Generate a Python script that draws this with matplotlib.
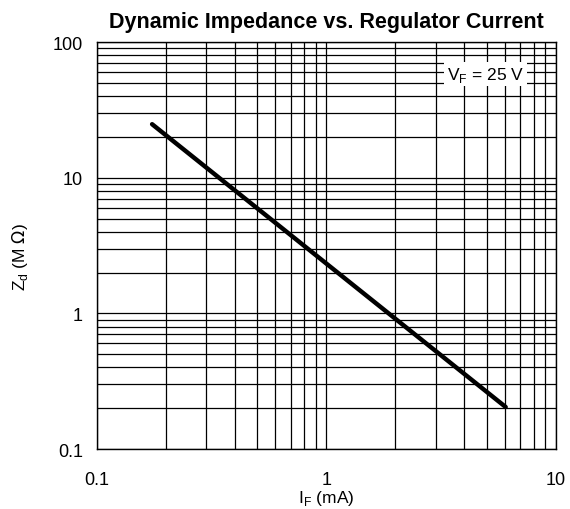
import numpy as np
import matplotlib
matplotlib.use('Agg')
import matplotlib.pyplot as plt
from matplotlib.ticker import LogLocator, NullFormatter, FixedLocator, FixedFormatter

plt.rcParams['font.family'] = ['Liberation Sans', 'DejaVu Sans']

# curve end points
current_ma = [0.174, 6.05]
impedance_mohm = [24.8, 0.204]

x_ticks = [0.1, 1, 10]
x_labels = ['0.1', '1', '10']
y_ticks = [0.1, 1, 10, 100]
y_labels = ['0.1', '1', '10', '100']

fig = plt.figure(figsize=(5.7, 5.1), dpi=100)
ax = fig.add_axes([0.170, 0.1176, 0.805, 0.798])

ax.set_xscale('log')
ax.set_yscale('log')
ax.set_xlim(0.1, 10)
ax.set_ylim(0.1, 100)

ax.xaxis.set_major_locator(FixedLocator(x_ticks))
ax.xaxis.set_major_formatter(FixedFormatter(x_labels))
ax.yaxis.set_major_locator(FixedLocator(y_ticks))
ax.yaxis.set_major_formatter(FixedFormatter(y_labels))
ax.xaxis.set_minor_locator(LogLocator(base=10, subs=np.arange(2, 10)))
ax.yaxis.set_minor_locator(LogLocator(base=10, subs=np.arange(2, 10)))
ax.xaxis.set_minor_formatter(NullFormatter())
ax.yaxis.set_minor_formatter(NullFormatter())

ax.grid(True, which='both', color='black', linewidth=0.9)
ax.tick_params(which='both', length=0)
ax.tick_params(axis='x', pad=16, labelsize=13)
ax.tick_params(axis='y', pad=10, labelsize=13)
for s in ax.spines.values():
    s.set_linewidth(1.0)

ax.plot(current_ma, impedance_mohm, color='black', linewidth=3.2, solid_capstyle='round', zorder=3)

ax.text(4.95, 58, r'V$_\mathregular{F}$ = 25 V', fontsize=12.5, ha='center', va='center',
        bbox=dict(facecolor='white', edgecolor='none', pad=2), zorder=4)

ax.set_title('Dynamic Impedance vs. Regulator Current', fontsize=15.5, fontweight='bold', pad=11)
ax.set_xlabel(r'I$_\mathregular{F}$ (mA)', fontsize=12.5, labelpad=0)
ax.set_ylabel(r'Z$_\mathregular{d}$ (M $\Omega$)', fontsize=12.5)
ax.yaxis.set_label_coords(-0.146, 0.475)

fig.savefig('out.png', dpi=100)
